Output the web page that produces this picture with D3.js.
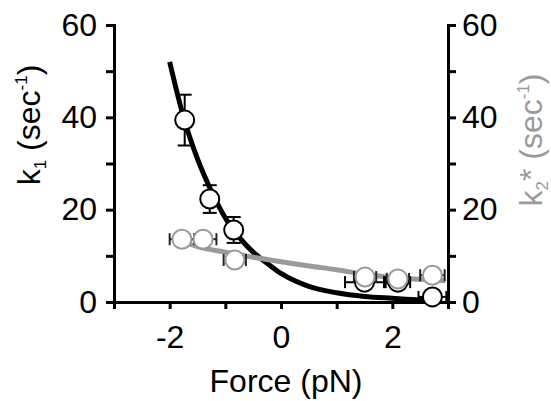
<!DOCTYPE html>
<html>
<head>
<meta charset="utf-8">
<script src="https://cdn.jsdelivr.net/npm/d3@7"></script>
<style>
  body { margin: 0; background: #fff; }
  text { font-family: "Liberation Sans", Arial, sans-serif; }
</style>
</head>
<body>
<div id="chart"></div>
<script>
// k1 data (black)
const k1Force = [-1.73, -1.28, -0.85, 1.50, 2.10, 2.72];
const k1Rate = [39.4, 22.3, 15.6, 4.3, 4.3, 1.1];
const k1YErr = [5.5, 3.0, 2.8, 0, 0, 0];
const k1XErr = [0, 0, 0, 0.35, 0.22, 0.25];
// k2* data (gray)
const k2Force = [-1.78, -1.40, -0.83, 1.51, 2.10, 2.72];
const k2Rate = [13.6, 13.6, 9.1, 5.4, 5.0, 5.8];
const k2XErr = [0.22, 0.24, 0.2, 0.2, 0.2, 0.22];
// fitted curves
const k1FitForce = [-2.0, -1.75, -1.5, -1.25, -1.0, -0.75, -0.5, -0.25, 0, 0.5, 1.0, 1.5, 2.0, 2.5, 2.8];
const k1FitRate = [52, 40, 31, 24, 18.2, 14, 10.8, 8.4, 6.2, 3.4, 2.0, 1.2, 0.8, 0.45, 0.35];
const k2FitForce = [-1.75, -1.5, -1.0, -0.5, 0, 0.5, 1.0, 1.5, 2.0, 2.5, 2.95];
const k2FitRate = [13.0, 12.0, 10.8, 9.7, 8.7, 7.8, 7.0, 6.0, 5.3, 4.9, 4.6];
// axis ticks
const xTicks = [-3, -2, -1, 0, 1, 2, 3];
const xLabels = [-2, 0, 2];
const yTicks = [0, 10, 20, 30, 40, 50, 60];
const yLabels = [0, 20, 40, 60];

const width = 551, height = 401;
const GRAY = "#9a9a9a";

let svg = d3.select("#chart").append("svg")
    .attr("width", width)
    .attr("height", height);

let x = d3.scaleLinear().domain([-3, 3]).range([114, 448]);
let y = d3.scaleLinear().domain([0, 60]).range([302, 25]);

// Axes
let xAxis = svg.append("g")
    .attr("transform", "translate(0," + y(0) + ")")
    .call(d3.axisBottom(x).tickValues(xTicks).tickSize(7)
        .tickFormat(d => xLabels.includes(d) ? d : "").tickPadding(14));
let yAxisL = svg.append("g")
    .attr("transform", "translate(" + x(-3) + ",0)")
    .call(d3.axisLeft(y).tickValues(yTicks).tickSize(8)
        .tickFormat(d => yLabels.includes(d) ? d : "").tickPadding(9));
let yAxisR = svg.append("g")
    .attr("transform", "translate(" + x(3) + ",0)")
    .call(d3.axisRight(y).tickValues(yTicks).tickSize(8)
        .tickFormat(d => yLabels.includes(d) ? d : "").tickPadding(6));

[xAxis, yAxisL, yAxisR].forEach(function(g) {
    g.select(".domain").attr("stroke", "#000").attr("stroke-width", 3);
    g.selectAll(".tick line").attr("stroke", "#000").attr("stroke-width", 3);
    g.selectAll(".tick text")
        .attr("fill", "#000")
        .style("font-size", "32px")
        .style("font-family", "Liberation Sans, Arial, sans-serif");
});
xAxis.selectAll(".tick text")
    .attr("y", 46).attr("dy", 0)
    .text(d => xLabels.includes(d) ? (d < 0 ? "-" + Math.abs(d) : d) : "");

// Axis titles
svg.append("text")
    .attr("x", 286).attr("y", 392)
    .attr("text-anchor", "middle")
    .style("font-size", "32px")
    .text("Force (pN)");

let leftTitle = svg.append("text")
    .attr("transform", "translate(40,125) rotate(-90)")
    .attr("text-anchor", "middle")
    .style("font-size", "32px")
    .attr("fill", "#000");
leftTitle.append("tspan").text("k");
leftTitle.append("tspan").attr("dy", 6).style("font-size", "17px").text("1");
leftTitle.append("tspan").attr("dy", -6).text(" (sec");
leftTitle.append("tspan").attr("dy", -13).style("font-size", "17px").text("-1");
leftTitle.append("tspan").attr("dy", 13).text(")");

let rightTitle = svg.append("text")
    .attr("transform", "translate(542,140) rotate(-90)")
    .attr("text-anchor", "middle")
    .style("font-size", "32px")
    .attr("fill", GRAY);
rightTitle.append("tspan").text("k");
rightTitle.append("tspan").attr("dy", 6).style("font-size", "17px").text("2");
rightTitle.append("tspan").attr("dy", -6).text("* (sec");
rightTitle.append("tspan").attr("dy", -13).style("font-size", "17px").text("-1");
rightTitle.append("tspan").attr("dy", 13).text(")");

// Curves
let line = d3.line()
    .x(d => x(d[0]))
    .y(d => y(d[1]))
    .curve(d3.curveMonotoneX);

svg.append("path")
    .datum(d3.zip(k1FitForce, k1FitRate))
    .attr("d", line)
    .attr("fill", "none")
    .attr("stroke", "#000")
    .attr("stroke-width", 5);

svg.append("path")
    .datum(d3.zip(k2FitForce, k2FitRate))
    .attr("d", line)
    .attr("fill", "none")
    .attr("stroke", GRAY)
    .attr("stroke-width", 5);

// Error bars
let k1Data = k1Force.map((f, i) => ({f: f, r: k1Rate[i], ye: k1YErr[i], xe: k1XErr[i]}));
let k2Data = k2Force.map((f, i) => ({f: f, r: k2Rate[i], ye: 0, xe: k2XErr[i]}));

function errorBars(data, color) {
    let g = svg.append("g").attr("stroke", color).attr("stroke-width", 2).attr("fill", "none");
    data.forEach(function(d) {
        if (d.ye > 0) {
            g.append("line").attr("x1", x(d.f)).attr("x2", x(d.f))
                .attr("y1", y(d.r - d.ye)).attr("y2", y(d.r + d.ye));
            [d.r - d.ye, d.r + d.ye].forEach(v => g.append("line")
                .attr("x1", x(d.f) - 7).attr("x2", x(d.f) + 7)
                .attr("y1", y(v)).attr("y2", y(v)));
        }
        if (d.xe > 0) {
            g.append("line").attr("x1", x(d.f - d.xe)).attr("x2", x(d.f + d.xe))
                .attr("y1", y(d.r)).attr("y2", y(d.r));
            [d.f - d.xe, d.f + d.xe].forEach(v => g.append("line")
                .attr("x1", x(v)).attr("x2", x(v))
                .attr("y1", y(d.r) - 6).attr("y2", y(d.r) + 6));
        }
    });
}
errorBars(k1Data, "#000");
errorBars(k2Data, "#222");

// Points
svg.selectAll(".k1pt")
    .data(k1Data)
    .enter().append("circle")
    .attr("class", "k1pt")
    .attr("cx", d => x(d.f))
    .attr("cy", d => y(d.r))
    .attr("r", 9.5)
    .attr("fill", "#fff")
    .attr("stroke", "#000")
    .attr("stroke-width", 2);

svg.selectAll(".k2pt")
    .data(k2Data)
    .enter().append("circle")
    .attr("class", "k2pt")
    .attr("cx", d => x(d.f))
    .attr("cy", d => y(d.r))
    .attr("r", 9.5)
    .attr("fill", "#fff")
    .attr("stroke", GRAY)
    .attr("stroke-width", 2);
</script>
</body>
</html>
